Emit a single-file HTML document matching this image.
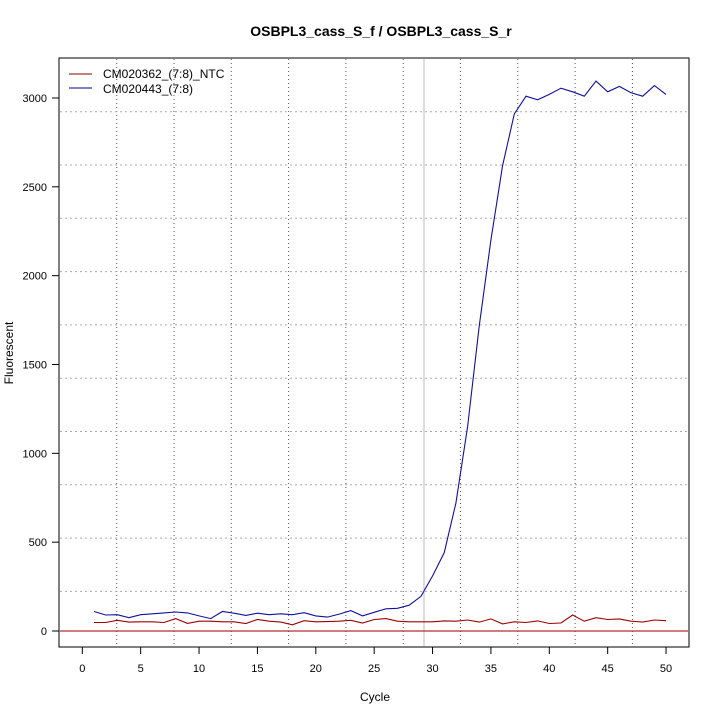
<!DOCTYPE html>
<html><head><meta charset="utf-8"><style>body{margin:0;background:#fff}svg{display:block}text{font-family:"Liberation Sans",sans-serif}</style></head>
<body>
<svg id="s" width="720" height="720" xmlns="http://www.w3.org/2000/svg">
<rect width="720" height="720" fill="#fff"/>
<text x="381" y="36" text-anchor="middle" font-size="14" font-weight="bold">OSBPL3_cass_S_f / OSBPL3_cass_S_r</text>
<text x="375" y="701" text-anchor="middle" font-size="12">Cycle</text>
<text transform="translate(13,353) rotate(-90)" text-anchor="middle" font-size="12">Fluorescent</text>
<g id="g"></g>
<rect x="59" y="58" width="630" height="589" fill="none" stroke="#000"/>
<text x="103" y="78" font-size="12">CM020362_(7:8)_NTC</text>
<text x="103" y="93" font-size="12">CM020443_(7:8)</text>
<line x1="69" y1="74" x2="92" y2="74" stroke="#8b0000"/>
<line x1="69" y1="88" x2="92" y2="88" stroke="#00008b"/>
</svg>
<script>
var g=document.getElementById('g'),h='';
function X(c){return 82.3+c*11.675}function Y(v){return 631-v*0.17767}
for(var x=116.7;x<689;x+=57.3)h+='<line x1="'+x+'" y1="59" x2="'+x+'" y2="646" stroke="#555" stroke-dasharray="1,3"/>';
for(var y=111.7;y<640;y+=53.3)h+='<line x1="60" y1="'+y+'" x2="688" y2="'+y+'" stroke="#aaa" stroke-dasharray="2,3"/>';
h+='<line x1="424" y1="59" x2="424" y2="646" stroke="#bbb"/>';
h+='<line x1="60" y1="631" x2="688" y2="631" stroke="#b03030" stroke-width="1.3"/>';
for(var c=0;c<=50;c+=5){h+='<line x1="'+X(c)+'" y1="647" x2="'+X(c)+'" y2="654" stroke="#000"/><text x="'+X(c)+'" y="672" font-size="11" text-anchor="middle">'+c+'</text>';}
for(var v=0;v<=3000;v+=500){h+='<line x1="52" y1="'+Y(v)+'" x2="59" y2="'+Y(v)+'" stroke="#000"/><text x="47" y="'+(Y(v)+4)+'" font-size="11" text-anchor="end">'+v+'</text>';}
var b=[110,90,92,75,92,97,102,107,102,85,70,110,100,88,100,92,97,92,103,85,78,95,115,85,105,125,128,145,195,310,440,720,1150,1720,2200,2620,2910,3010,2990,3020,3055,3035,3010,3095,3035,3065,3030,3010,3070,3020];
var r=[48,48,60,50,52,52,48,70,43,55,55,52,52,42,65,55,50,35,58,52,53,55,60,45,65,70,55,52,52,52,57,55,62,50,68,40,52,48,57,42,45,90,55,75,65,68,55,50,62,58];
function P(a,col){var p=a.map(function(v,i){return X(i+1).toFixed(1)+','+Y(v).toFixed(1)}).join(' ');return '<polyline points="'+p+'" fill="none" stroke="'+col+'" stroke-width="1.1"/>';}
h+=P(r,'#a00000')+P(b,'#1010a0');
g.innerHTML=h;
</script>
</body></html>
